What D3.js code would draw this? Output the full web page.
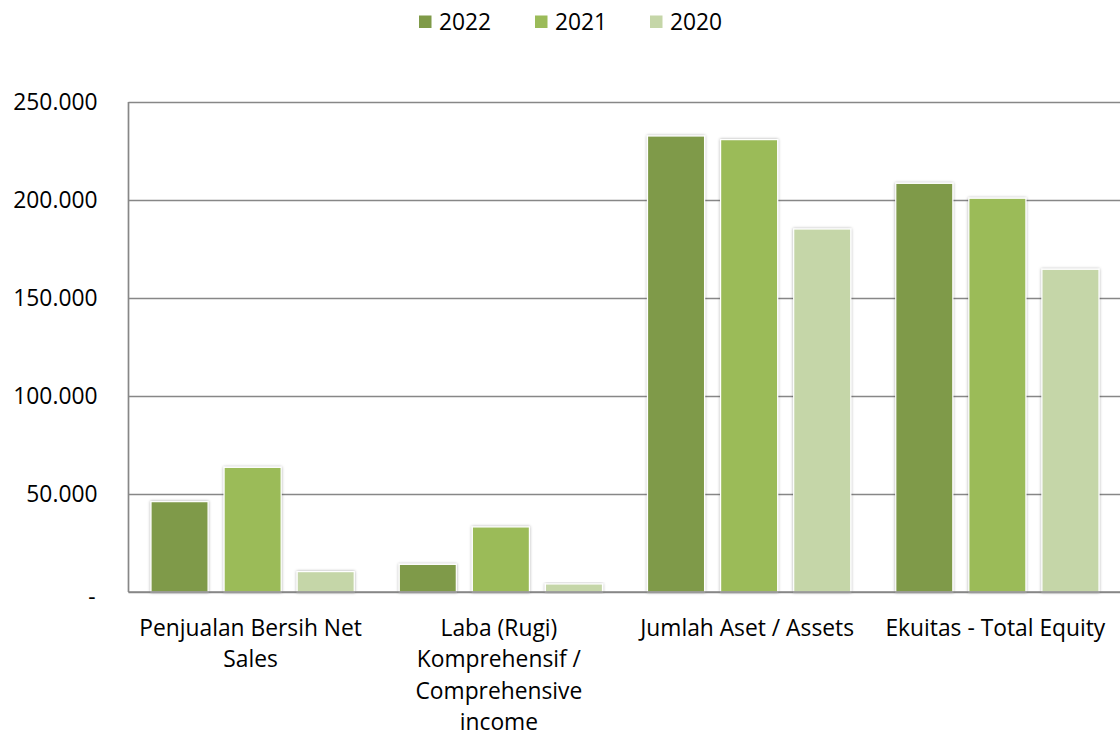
<!DOCTYPE html>
<html>
<head>
<meta charset="utf-8">
<script src="https://cdn.jsdelivr.net/npm/d3@7"></script>
<style>
  html, body { margin: 0; padding: 0; background: #fff; }
  svg { display: block; }
  text { font-family: "Open Sans", "Liberation Sans", sans-serif; fill: #000; }
</style>
</head>
<body>
<svg id="chart" width="1120" height="733"></svg>
<script>
// ---- data ----
const categories = ["net", "income", "assets", "equity"];
const categoryLabels = [
  ["Penjualan Bersih Net", "Sales"],
  ["Laba (Rugi)", "Komprehensif /", "Comprehensive", "income"],
  ["Jumlah Aset / Assets"],
  ["Ekuitas - Total Equity"]
];
const seriesNames = ["2022", "2021", "2020"];
const values2022 = [46100, 14100, 232650, 208500];
const values2021 = [63600, 33200, 230800, 200900];
const values2020 = [10400, 4100, 185200, 164650];
const tickValues = [0, 50000, 100000, 150000, 200000, 250000];
const tickLabels = ["-", "50.000", "100.000", "150.000", "200.000", "250.000"];
const colors = ["#7f9a48", "#9bbb59", "#c5d6a8"];

const seriesValues = [values2022, values2021, values2020];

// ---- layout ----
const svg = d3.select("#chart");
const pLeft = 128.5, pRight = 1121.5, pTop = 102, pBottom = 592;
const fs = 22.8;

const x0 = d3.scaleBand().domain(categories).range([pLeft, pRight]).padding(0);
const x1 = d3.scaleBand().domain(seriesNames).range([0, x0.bandwidth()])
  .paddingInner(16 / 73).paddingOuter(0.308);
const y = d3.scaleLinear().domain([0, 250000]).range([pBottom, pTop]);

const defs = svg.append("defs");
const f = defs.append("filter").attr("id", "shadow")
  .attr("x", "-20%").attr("y", "-20%").attr("width", "140%").attr("height", "140%");
f.append("feDropShadow").attr("dx", 0).attr("dy", 0).attr("stdDeviation", 1.6)
  .attr("flood-color", "#000").attr("flood-opacity", 0.35);

// gridlines
const yAxis = d3.axisLeft(y).tickValues(tickValues)
  .tickSize(-(pRight - pLeft)).tickFormat((d, i) => tickLabels[i]);
const gy = svg.append("g").attr("transform", `translate(${pLeft},0)`).call(yAxis);
gy.select(".domain").remove();
gy.selectAll(".tick line").attr("stroke", "#878787").attr("stroke-width", 1.7);
gy.selectAll(".tick text").attr("x", -31).attr("font-size", fs)
  .style("font-family", "'Open Sans', sans-serif").attr("fill", "#000");
gy.selectAll(".tick").filter(d => d === 0).select("text").attr("dy", "0.55em").attr("x", -33);

// left axis line
svg.append("line").attr("x1", pLeft).attr("x2", pLeft).attr("y1", pTop).attr("y2", pBottom)
  .attr("stroke", "#878787").attr("stroke-width", 1.7);

// bars
const groups = svg.append("g").selectAll("g").data(categories).join("g")
  .attr("transform", d => `translate(${x0(d)},0)`);
groups.selectAll("rect")
  .data((c, ci) => seriesNames.map((s, si) => ({ s, si, v: seriesValues[si][ci] })))
  .join("rect")
  .attr("x", d => x1(d.s))
  .attr("width", x1.bandwidth())
  .attr("y", d => y(d.v))
  .attr("height", d => y(0) - y(d.v))
  .attr("fill", d => colors[d.si])
  .attr("stroke", "#fff").attr("stroke-width", 1.2)
  .attr("filter", "url(#shadow)");

// baseline redraw over bars
svg.append("line").attr("x1", pLeft).attr("x2", pRight).attr("y1", pBottom).attr("y2", pBottom)
  .attr("stroke", "#878787").attr("stroke-width", 1.7);

// category labels
const lab = svg.append("g");
categories.forEach((c, i) => {
  const cx = x0(c) + x0.bandwidth() / 2 - 2;
  const t = lab.append("text").attr("text-anchor", "middle").attr("font-size", fs)
    .attr("x", cx).attr("y", 636);
  categoryLabels[i].forEach((line, li) => {
    t.append("tspan").attr("x", cx).attr("dy", li === 0 ? 0 : 31.3).text(line);
  });
});

// legend
const legendX = [419, 535, 650];
const lg = svg.append("g");
seriesNames.forEach((s, i) => {
  lg.append("rect").attr("x", legendX[i]).attr("y", 15.5).attr("width", 12.5).attr("height", 12.5)
    .attr("fill", colors[i]);
  lg.append("text").attr("x", legendX[i] + 20).attr("y", 30).attr("font-size", fs).text(s);
});
</script>
</body>
</html>
